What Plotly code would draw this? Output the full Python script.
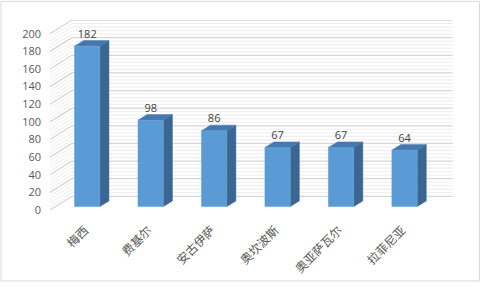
import plotly.graph_objects as go

# ---- data ----
categories = ["梅西", "费基尔", "安古伊萨", "奥坎波斯", "奥亚萨瓦尔", "拉菲尼亚"]
values = [182, 98, 86, 67, 67, 64]
y_ticks = list(range(0, 201, 20))
minor_ticks = list(range(0, 201, 4))

# ---- layout geometry ----
W, H = 481, 288
ML, MR, MT, MB = 50, 28, 20, 74
PW, PH = W - ML - MR, H - MT - MB
XMIN, XMAX = -0.5, 5.85
YMIN, YMAX = 0, 215.6
DX, DY = 0.347, 15.56          # full-depth oblique offset (data units)
D_FRONT, D_BACK = 0.25, 0.66   # bar depth range
HALF_W = 0.2

FRONT_C = "#5b9bd5"
SIDE_C = "#3b6691"
TOP_C = "#4678b0"

fig = go.Figure()

# ---- walls (back wall + left wall lines) ----
def wall_lines(levels):
    xs, ys = [], []
    for v in levels:
        xs += [XMIN, XMIN + DX, None]
        ys += [v, v + DY, None]
        xs += [XMIN + DX, 5.5 + DX, None]
        ys += [v + DY, v + DY, None]
    return xs, ys

mx, my = wall_lines([v for v in minor_ticks if v not in y_ticks])
fig.add_trace(go.Scatter(x=mx, y=my, mode="lines",
                         line=dict(color="#ededed", width=1),
                         hoverinfo="skip", showlegend=False))
Mx, My = wall_lines(y_ticks)
fig.add_trace(go.Scatter(x=Mx, y=My, mode="lines",
                         line=dict(color="#d6d6d6", width=1.3),
                         hoverinfo="skip", showlegend=False))

# ---- 3D bars ----
fx, fy, sx, sy, tx, ty = [], [], [], [], [], []
for i, v in enumerate(values):
    xl = i - HALF_W + D_FRONT * DX
    xr = i + HALF_W + D_FRONT * DX
    yb = D_FRONT * DY
    yt = v + D_FRONT * DY
    ddx = (D_BACK - D_FRONT) * DX
    ddy = (D_BACK - D_FRONT) * DY
    fx += [xl, xr, xr, xl, xl, None]
    fy += [yb, yb, yt, yt, yb, None]
    sx += [xr, xr + ddx, xr + ddx, xr, xr, None]
    sy += [yb, yb + ddy, yt + ddy, yt, yb, None]
    tx += [xl, xr, xr + ddx, xl + ddx, xl, None]
    ty += [yt, yt, yt + ddy, yt + ddy, yt, None]

for xs, ys, c in [(sx, sy, SIDE_C), (tx, ty, TOP_C), (fx, fy, FRONT_C)]:
    fig.add_trace(go.Scatter(x=xs, y=ys, mode="lines", fill="toself",
                             fillcolor=c, line=dict(color=c, width=0.5),
                             hoverinfo="skip", showlegend=False))

# ---- data labels ----
fig.add_trace(go.Scatter(
    x=[i + D_FRONT * DX for i in range(len(values))],
    y=[v + D_BACK * DY for v in values],
    mode="text", text=[str(v) for v in values], textposition="top center",
    textfont=dict(size=11, color="#404040", family="Open Sans"),
    hoverinfo="skip", showlegend=False))

# ---- outer border ----
def px_to_paper_x(p):
    return (p - ML) / PW

def px_to_paper_y(p):
    return (H - MB - p) / PH

fig.add_shape(type="rect", xref="paper", yref="paper",
              x0=px_to_paper_x(1), x1=px_to_paper_x(W - 1.5),
              y0=px_to_paper_y(H - 1.5), y1=px_to_paper_y(1),
              line=dict(color="#d9d9d9", width=1), layer="below")

fig.update_layout(
    width=W, height=H, autosize=False,
    margin=dict(l=ML, r=MR, t=MT, b=MB, pad=0),
    paper_bgcolor="white", plot_bgcolor="rgba(0,0,0,0)",
    font=dict(family="Noto Sans CJK SC", color="#595959"),
    xaxis=dict(range=[XMIN, XMAX],
               tickvals=[i + 0.05 for i in range(len(categories))],
               ticktext=categories, tickangle=-45, showgrid=False,
               zeroline=False, showline=False, ticks="",
               tickfont=dict(size=12, color="#595959", family="Noto Sans CJK SC"),
               ticklabelstandoff=10, fixedrange=True),
    yaxis=dict(range=[YMIN, YMAX], tickvals=y_ticks, showgrid=False,
               zeroline=False, showline=False, ticks="",
               tickfont=dict(size=11, color="#595959", family="Open Sans"),
               ticklabelstandoff=8, fixedrange=True),
)

fig.write_html("out.html", config={"displayModeBar": False})
